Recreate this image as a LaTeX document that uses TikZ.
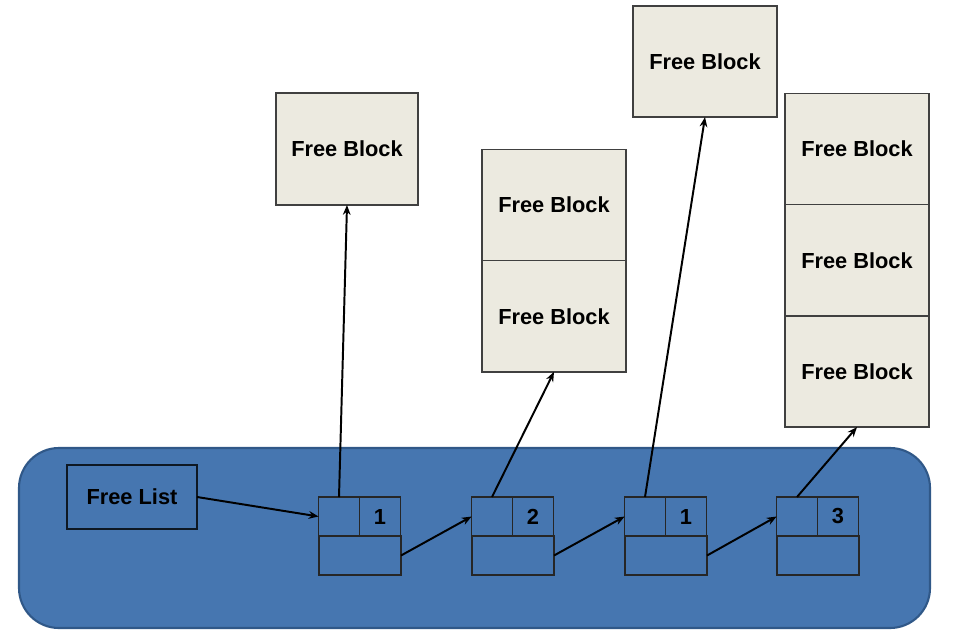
\documentclass[tikz,border=0pt]{standalone}
\usepackage{fontspec}
\setmainfont{Liberation Sans}
\usetikzlibrary{arrows.meta,positioning}
\definecolor{listblue}{RGB}{70,118,176}
\definecolor{listedge}{RGB}{48,88,136}
\definecolor{blockfill}{RGB}{236,234,224}

\begin{document}
\begin{tikzpicture}[x=0.025cm,y=-0.025cm,
  blk/.style={draw=black!75,fill=blockfill,line width=1pt,outer sep=0pt,inner sep=0pt,
    minimum width=3.6cm,minimum height=2.78cm,font=\fontsize{15.5}{18}\selectfont\bfseries},
  cell/.style={draw=black!85,line width=0.9pt,outer sep=0pt,inner sep=0pt,
    minimum width=1.02cm,minimum height=0.975cm,font=\fontsize{15.5}{18}\selectfont\bfseries},
  ptr/.style={-{Stealth[length=7pt,width=5.5pt]},line width=1.4pt}]
  \useasboundingbox (0,0) rectangle (972,637);
  \draw[draw=listedge,fill=listblue,line width=1.5pt,rounded corners=1cm] (19,448) rectangle (930,628);
  % free blocks
  \node[blk,minimum width=3.55cm,minimum height=2.8cm] (fbA) at (347,149) {Free Block};
  \node[blk] (fbB1) at (554,205) {Free Block};
  \node[blk,below=0pt of fbB1] (fbB2) {Free Block};
  \node[blk] (fbC) at (705,61.5) {Free Block};
  \node[blk] (fbD1) at (857,149) {Free Block};
  \node[blk,below=0pt of fbD1] (fbD2) {Free Block};
  \node[blk,below=0pt of fbD2] (fbD3) {Free Block};
  % free list
  \node[cell,draw=black!80!listblue,minimum width=3.25cm,minimum height=1.6cm] (fl) at (132,497) {Free List};
  \foreach \i/\xl/\num in {1/319/1,2/472/2,3/625/1,4/777/3}{
    \node[cell] (p\i) at (\xl+20,516.5) {};
    \node[cell,right=0pt of p\i] (c\i) {\num};
    \node[cell,minimum width=2.05cm] (n\i) at (\xl+41,555.5) {};
  }
  \draw[ptr] (fl.east) -- (p1.west);
  \draw[ptr] (n1.east) -- (p2.west);
  \draw[ptr] (n2.east) -- (p3.west);
  \draw[ptr] (n3.east) -- (p4.west);
  \draw[ptr] (p1.north) -- (fbA.south);
  \draw[ptr] (p2.north) -- (fbB2.south);
  \draw[ptr] (p3.north) -- (fbC.south);
  \draw[ptr] (p4.north) -- (fbD3.south);
\end{tikzpicture}
\end{document}
